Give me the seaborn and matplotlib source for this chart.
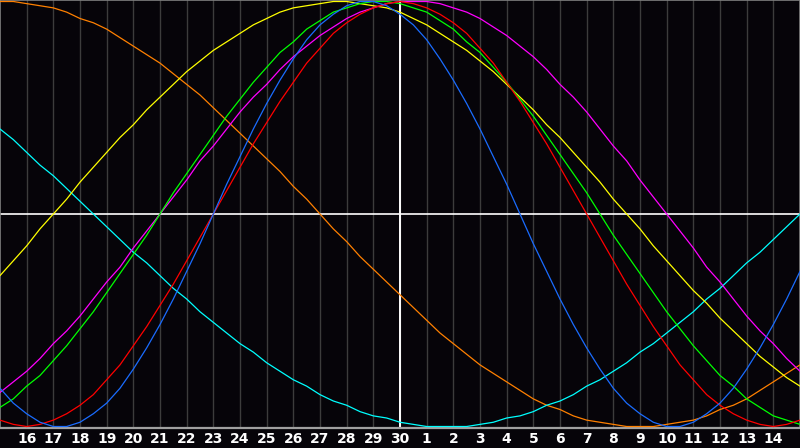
import numpy as np
import pandas as pd
import matplotlib
matplotlib.use("Agg")
import matplotlib.pyplot as plt
import seaborn as sns

# Day labels along the bottom axis (grid positions 1..29), today = 30
day_labels = ["16", "17", "18", "19", "20", "21", "22", "23", "24", "25", "26",
              "27", "28", "29", "30", "1", "2", "3", "4", "5", "6", "7", "8",
              "9", "10", "11", "12", "13", "14"]

# Cycle values (percent) read every half day, positions 0, 0.5, ..., 30
physical = [-82, -89, -94, -98, -100, -100, -98, -94, -89, -82, -73, -63, -52, -40, -27, -14,
            0, 14, 27, 40, 52, 63, 73, 82, 89, 94, 98, 100, 100, 98, 94, 89, 82, 73, 63, 52,
            40, 27, 14, 0, -14, -27, -40, -52, -63, -73, -82, -89, -94, -98, -100, -100, -98,
            -94, -89, -82, -73, -63, -52, -40, -27]
emotional = [-97, -99, -100, -99, -97, -94, -90, -85, -78, -71, -62, -53, -43, -33, -22, -11,
             0, 11, 22, 33, 43, 53, 62, 71, 78, 85, 90, 94, 97, 99, 100, 99, 97, 94, 90, 85,
             78, 71, 62, 53, 43, 33, 22, 11, 0, -11, -22, -33, -43, -53, -62, -71, -78, -85,
             -90, -94, -97, -99, -100, -99, -97]
intellectual = [-91, -87, -81, -76, -69, -62, -54, -46, -37, -28, -19, -10, 0, 10, 19, 28, 37,
                46, 54, 62, 69, 76, 81, 87, 91, 95, 97, 99, 100, 100, 99, 97, 95, 91, 87, 81,
                76, 69, 62, 54, 46, 37, 28, 19, 10, 0, -10, -19, -28, -37, -46, -54, -62, -69,
                -76, -81, -87, -91, -95, -97, -99]
intuitive = [-84, -79, -74, -68, -61, -55, -48, -40, -32, -25, -16, -8, 0, 8, 16, 25, 32, 40,
             48, 55, 61, 68, 74, 79, 84, 88, 92, 95, 97, 99, 100, 100, 100, 99, 97, 95, 92, 88,
             84, 79, 74, 68, 61, 55, 48, 40, 32, 25, 16, 8, 0, -8, -16, -25, -32, -40, -48,
             -55, -61, -68, -74]
aesthetic = [-29, -22, -15, -7, 0, 7, 15, 22, 29, 36, 42, 49, 55, 61, 67, 72, 77, 81, 85, 89,
             92, 95, 97, 98, 99, 100, 100, 99, 98, 97, 95, 92, 89, 85, 81, 77, 72, 67, 61, 55,
             49, 42, 36, 29, 22, 15, 7, 0, -7, -15, -22, -29, -36, -42, -49, -55, -61, -67,
             -72, -77, -81]
awareness = [100, 100, 99, 98, 97, 95, 92, 90, 87, 83, 79, 75, 71, 66, 61, 56, 50, 44, 38, 32,
             26, 20, 13, 7, 0, -7, -13, -20, -26, -32, -38, -44, -50, -56, -61, -66, -71, -75,
             -79, -83, -87, -90, -92, -95, -97, -98, -99, -100, -100, -100, -99, -98, -97, -95,
             -92, -90, -87, -83, -79, -75, -71]
spiritual = [40, 35, 29, 23, 18, 12, 6, 0, -6, -12, -18, -23, -29, -35, -40, -46, -51, -56,
             -61, -65, -70, -74, -78, -81, -85, -88, -90, -93, -95, -96, -98, -99, -100, -100,
             -100, -100, -99, -98, -96, -95, -93, -90, -88, -85, -81, -78, -74, -70, -65, -61,
             -56, -51, -46, -40, -35, -29, -23, -18, -12, -6, 0]

series_names = ["awareness", "spiritual", "aesthetic", "intuitive",
                "intellectual", "emotional", "physical"]
series_values = [awareness, spiritual, aesthetic, intuitive,
                 intellectual, emotional, physical]
palette = {"physical": "#1a6cff", "emotional": "#ff0000", "intellectual": "#00ff00",
           "intuitive": "#ff00ff", "aesthetic": "#ffff00", "awareness": "#ff8000",
           "spiritual": "#00ffff"}

rows = []
for name, vals in zip(series_names, series_values):
    for i, v in enumerate(vals):
        rows.append({"day": i / 2, "value": v / 100, "cycle": name})
df = pd.DataFrame(rows)

sns.set_style("dark")
bg = "#060409"
fig = plt.figure(figsize=(8, 4.48), dpi=100, facecolor=bg)
ax = fig.add_axes([0, 20 / 448, 1, 428 / 448])
ax.set_facecolor(bg)

# vertical day grid
for x in range(1, 30):
    ax.axvline(x, color="#3c3c3c", lw=1.0, zorder=1)

sns.lineplot(data=df, x="day", y="value", hue="cycle", hue_order=series_names,
             palette=palette, lw=0.9, legend=False, ax=ax, zorder=3, sort=False)

ax.axhline(0, color="white", lw=1.2, zorder=2)
ax.axvline(15, color="white", lw=1.4, zorder=2)

ax.set_xlim(0, 30)
ax.set_ylim(-1 - 1.5 / 213, 1 + 1.5 / 213)
ax.set_xticks(range(1, 30))
ax.set_xticklabels(day_labels, color="white", fontweight="bold", fontsize=10,
                   family="DejaVu Sans")
ax.tick_params(axis="x", length=0, pad=3)
ax.set_yticks([])
ax.set_xlabel("")
ax.set_ylabel("")
ax.grid(False)
for side in ["top", "left", "right"]:
    ax.spines[side].set_visible(True)
    ax.spines[side].set_color("#808080")
    ax.spines[side].set_linewidth(1.2)
ax.spines["bottom"].set_visible(True)
ax.spines["bottom"].set_color("#a0a0a0")
ax.spines["bottom"].set_linewidth(1.6)

fig.savefig("out.png", dpi=100, facecolor=bg)
